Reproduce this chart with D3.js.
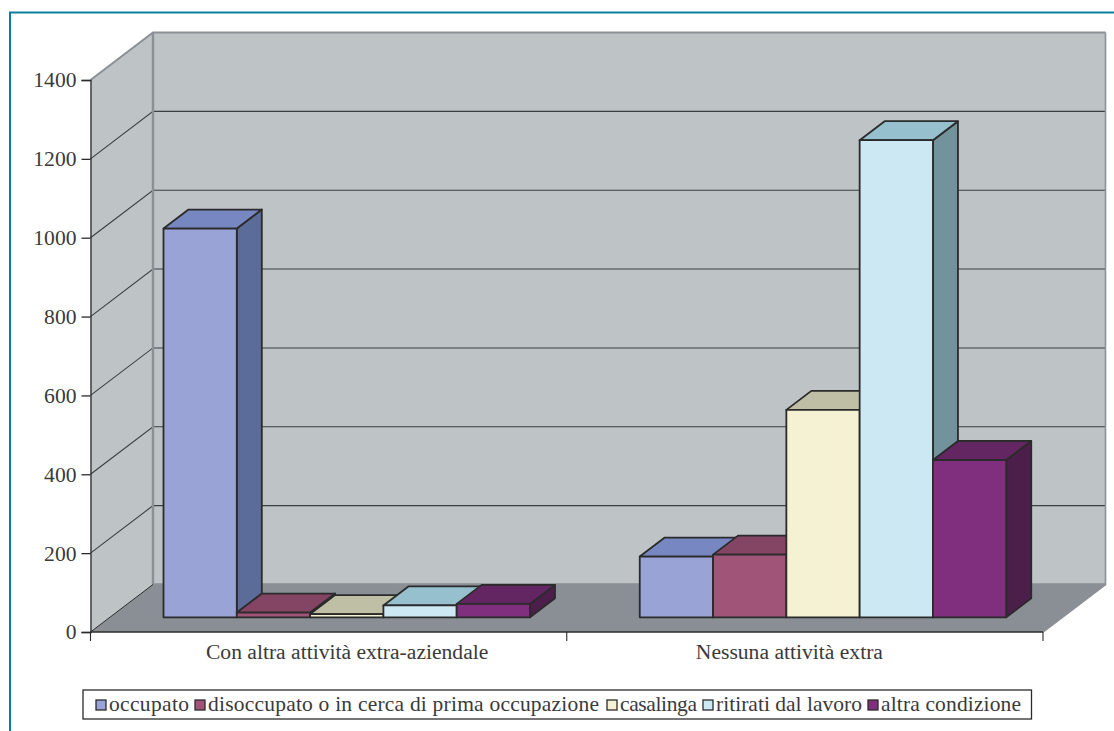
<!DOCTYPE html>
<html lang="it">
<head>
<meta charset="utf-8">
<script src="https://cdn.jsdelivr.net/npm/d3@7/dist/d3.min.js"></script>
<style>
html,body{margin:0;padding:0;background:#fff}
svg{display:block}
text{font-family:"Liberation Serif",serif;fill:#3a3a3a}
</style>
</head>
<body>
<svg id="chart" width="1114" height="731"></svg>
<script>
// Valori del grafico
const categories = ["Con altra attività extra-aziendale", "Nessuna attività extra"];
const seriesNames = ["occupato", "disoccupato o in cerca di prima occupazione", "casalinga", "ritirati dal lavoro", "altra condizione"];
const occupato = [986, 154];
const disoccupato = [12, 159];
const casalinga = [8, 526];
const ritirati = [30, 1210];
const altra = [34, 399];
const seriesValues = [occupato, disoccupato, casalinga, ritirati, altra];
const yTicks = [0, 200, 400, 600, 800, 1000, 1200, 1400];

// Colori: fronte, faccia superiore, fianco
const frontColors = ["#9aa3d6", "#a05478", "#f4f2d2", "#cbe8f3", "#7f2f7d"];
const topColors = ["#7787c2", "#844464", "#bfbfa6", "#96c0ce", "#642563"];
const sideColors = ["#5c6c99", "#6a3550", "#8f8f7c", "#72939b", "#4c1f4a"];

const svg = d3.select("#chart");

// Cornice
svg.append("path").attr("d", "M10,731V12.5H1114").attr("fill", "none").attr("stroke", "#0b7c9c").attr("stroke-width", 2);

// Proiezione obliqua della scatola
const left = 90.5, right = 1043, bottom = 632, topY = 80;
const wallDx = 62.5, wallDy = -47.5;   // profondità della scatola
const barDx = 25, barDy = -19;         // profondità delle barre
const baseDx = 19, baseDy = -14.7;     // arretramento delle barre sul pavimento

const y = d3.scaleLinear().domain([0, 1400]).range([bottom, topY]);
const x = d3.scaleBand().domain(categories).range([left, right]);
const inner = d3.scaleBand().domain(seriesNames).range([54, 420.5]);

const poly = pts => d3.line()(pts) + "Z";
const wallGrey = "#8a9096", wallFill = "#bec3c6", floorFill = "#898f95", ink = "#2b2b2b";

// Pareti e pavimento
svg.append("path").attr("fill", wallFill).attr("d", poly([
  [left + wallDx, y(1400) + wallDy], [right + wallDx, y(1400) + wallDy],
  [right + wallDx, y(0) + wallDy], [left + wallDx, y(0) + wallDy]]));
svg.append("path").attr("fill", wallFill).attr("d", poly([
  [left, y(1400)], [left + wallDx, y(1400) + wallDy],
  [left + wallDx, y(0) + wallDy], [left, y(0)]]));
svg.append("path").attr("fill", floorFill).attr("d", poly([
  [left, y(0)], [left + wallDx, y(0) + wallDy],
  [right + wallDx, y(0) + wallDy], [right, y(0)]]));

// Griglia sulle pareti
const grid = svg.append("g").attr("fill", "none");
yTicks.filter(t => t > 0).forEach(t => {
  const c = t === 1400 ? wallGrey : "#3c3f42";
  grid.append("path").attr("stroke", c).attr("stroke-width", t === 1400 ? 2 : 1.1)
    .attr("d", d3.line()([[left, y(t)], [left + wallDx, y(t) + wallDy], [right + wallDx, y(t) + wallDy]]));
});
grid.append("path").attr("stroke", wallGrey).attr("stroke-width", 2.4)
  .attr("d", d3.line()([[left + wallDx, y(1400) + wallDy], [left + wallDx, y(0) + wallDy], [right + wallDx, y(0) + wallDy]]));
grid.append("path").attr("stroke", wallGrey).attr("stroke-width", 1.6)
  .attr("d", d3.line()([[right + wallDx, y(1400) + wallDy], [right + wallDx, y(0) + wallDy], [right, y(0)]]));
grid.append("path").attr("stroke", "#2b2b2b").attr("stroke-width", 1)
  .attr("d", d3.line()([[left, y(0)], [left + wallDx, y(0) + wallDy]]));

// Barre: da sinistra a destra, ogni fronte copre il fianco della precedente
const barsG = svg.append("g").attr("stroke", ink).attr("stroke-width", 1.8).attr("stroke-linejoin", "round");
categories.forEach((cat, ci) => {
  seriesNames.forEach((name, si) => {
    const v = seriesValues[si][ci];
    const x0 = x(cat) + inner(name) + baseDx;
    const x1 = x0 + inner.bandwidth();
    const yb = y(0) + baseDy;
    const yt = y(v) + baseDy;
    barsG.append("path").attr("fill", sideColors[si]).attr("d", poly([
      [x1, yt], [x1 + barDx, yt + barDy], [x1 + barDx, yb + barDy], [x1, yb]]));
    barsG.append("path").attr("fill", topColors[si]).attr("d", poly([
      [x0, yt], [x0 + barDx, yt + barDy], [x1 + barDx, yt + barDy], [x1, yt]]));
    barsG.append("path").attr("fill", frontColors[si]).attr("d", poly([
      [x0, yt], [x1, yt], [x1, yb], [x0, yb]]));
  });
});

// Asse verticale
const axisFont = 21.6;
const yAxis = svg.append("g").attr("transform", `translate(${left},0)`)
  .call(d3.axisLeft(y).tickValues(yTicks).tickSize(9).tickPadding(5).tickFormat(d3.format("d")));
yAxis.selectAll("path,line").attr("stroke", ink).attr("stroke-width", 1.3);
yAxis.selectAll("text").attr("font-size", axisFont).attr("font-family", "Liberation Serif").attr("fill", "#3a3a3a");

// Asse orizzontale con tacche ai confini delle categorie
const xAxisG = svg.append("g").attr("stroke", ink);
xAxisG.append("line").attr("x1", left).attr("x2", right).attr("y1", y(0)).attr("y2", y(0)).attr("stroke-width", 1.3);
[...categories.map(c => x(c)), right].forEach(px => {
  xAxisG.append("line").attr("x1", px).attr("x2", px).attr("y1", y(0)).attr("y2", y(0) + 9).attr("stroke-width", 1.1);
});
const labelShift = [18.5, -15.5];
categories.forEach((c, i) => {
  svg.append("text").attr("x", x(c) + x.bandwidth() / 2 + labelShift[i]).attr("y", 659)
    .attr("text-anchor", "middle").attr("font-size", axisFont).text(c);
});

// Legenda
const legendSwatchX = [96, 195, 607, 703, 868];
const legendTextWidth = [80, 391, 77, 146, 140];
const legend = svg.append("g");
legend.append("rect").attr("x", 83).attr("y", 690).attr("width", 948.5).attr("height", 29)
  .attr("fill", "#fff").attr("stroke", "#2b2b2b").attr("stroke-width", 1.3);
seriesNames.forEach((name, si) => {
  legend.append("rect").attr("x", legendSwatchX[si]).attr("y", 700).attr("width", 10).attr("height", 10)
    .attr("fill", frontColors[si]).attr("stroke", ink).attr("stroke-width", 1.3);
  legend.append("text").attr("x", legendSwatchX[si] + 13).attr("y", 711)
    .attr("font-size", 21.5).attr("textLength", legendTextWidth[si]).attr("lengthAdjust", "spacing").text(name);
});
</script>
</body>
</html>
